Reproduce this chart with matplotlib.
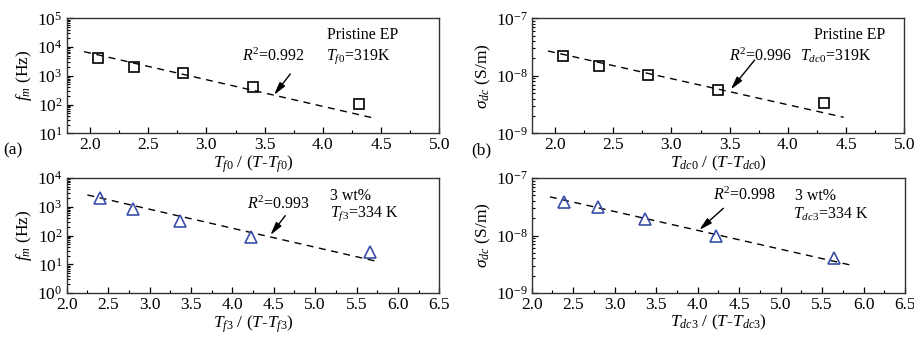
import matplotlib
matplotlib.use("Agg")
import matplotlib.pyplot as plt
from matplotlib.ticker import LogLocator, MultipleLocator, NullFormatter, FormatStrFormatter

plt.rcParams['font.family'] = ['Liberation Serif', 'DejaVu Serif']
plt.rcParams['mathtext.fontset'] = 'custom'
plt.rcParams['mathtext.rm'] = 'Liberation Serif'
plt.rcParams['mathtext.it'] = 'Liberation Serif:italic'
plt.rcParams['mathtext.bf'] = 'Liberation Serif:bold'
plt.rcParams['font.size'] = 11

# ---- data ----
# (a) pristine EP, f_m
a_x = [2.07, 2.38, 2.80, 3.40, 4.31]
a_y = [4070, 2080, 1290, 420, 102]
a_fit_x = [1.95, 4.45]
a_fit_y = [6900, 33]
a_arrow_tail = (3.72, 1150)
a_arrow_head = (3.58, 215)

# (b) pristine EP, sigma_dc
b_x = [2.07, 2.38, 2.80, 3.40, 4.31]
b_y = [2.2e-8, 1.5e-8, 1.02e-8, 5.7e-9, 3.3e-9]
b_fit_x = [1.94, 4.48]
b_fit_y = [2.7e-8, 1.9e-9]
b_arrow_tail = (3.715, 1.88e-8)
b_arrow_head = (3.51, 5.8e-9)

# (c) 3 wt%, f_m
c_x = [2.40, 2.80, 3.37, 4.23, 5.66]
c_y = [2000, 830, 330, 87, 26]
c_fit_x = [2.25, 5.74]
c_fit_y = [2570, 12.7]
c_arrow_tail = (4.64, 490)
c_arrow_head = (4.46, 104)

# (d) 3 wt%, sigma_dc
d_x = [2.39, 2.80, 3.37, 4.22, 5.65]
d_y = [3.9e-8, 3.1e-8, 1.9e-8, 9.9e-9, 4.0e-9]
d_fit_x = [2.22, 5.84]
d_fit_y = [4.7e-8, 3.07e-9]
d_arrow_tail = (4.31, 2.97e-8)
d_arrow_head = (4.02, 1.25e-8)

fig = plt.figure(figsize=(9.14, 3.4), dpi=100)

W = 372.6 / 914
H = 115 / 340
pos = {
    'a': [66.7 / 914, (340 - 133.3) / 340, W, H],
    'b': [531.7 / 914, (340 - 133.3) / 340, W, H],
    'c': [66.7 / 914, (340 - 293) / 340, W, H],
    'd': [531.7 / 914, (340 - 293) / 340, W + 0.7 / 914, H],
}

blue = '#3a4fa8'
TXT = 11.5
TICK = 12.5
LAB = 12.5


def style(ax, xlim, ylim, xmajor):
    ax.set_yscale('log')
    ax.set_xlim(*xlim)
    ax.set_ylim(*ylim)
    ax.xaxis.set_major_locator(MultipleLocator(xmajor))
    ax.xaxis.set_minor_locator(MultipleLocator(xmajor / 2))
    ax.yaxis.set_major_locator(LogLocator(base=10, numticks=20))
    ax.yaxis.set_minor_locator(LogLocator(base=10, subs=range(2, 10), numticks=20))
    ax.yaxis.set_minor_formatter(NullFormatter())
    ax.xaxis.set_major_formatter(FormatStrFormatter('%.1f'))
    ax.tick_params(which='both', direction='in', top=False, right=False, labelsize=TICK)
    ax.tick_params(which='major', length=4, width=0.9, pad=3)
    ax.tick_params(which='minor', length=2.5, width=0.8)
    for s in ax.spines.values():
        s.set_linewidth(1.0)
        s.set_color('#333333')


def arrow(ax, tail, head):
    ax.annotate('', xy=head, xytext=tail,
                arrowprops=dict(arrowstyle='-|>,head_length=0.7,head_width=0.18',
                                color='k', lw=1.0, shrinkA=0, shrinkB=0))


# (a)
ax = fig.add_axes(pos['a'])
style(ax, (1.8, 5.0), (10, 1e5), 0.5)
ax.plot(a_fit_x, a_fit_y, 'k--', lw=1.0, dashes=(5, 4))
ax.plot(a_x, a_y, 's', ms=7, mfc='none', mec='k', mew=1.2)
arrow(ax, a_arrow_tail, a_arrow_head)
ax.text(0.556, 0.666, r'$R^2$=0.992', transform=ax.transAxes, ha='center', va='center', fontsize=TXT)
ax.text(0.795, 0.855, 'Pristine EP', transform=ax.transAxes, ha='center', va='center', fontsize=TXT)
ax.text(0.695, 0.666, r'$T_{\mathit{f0}}$=319K', transform=ax.transAxes, ha='left', va='center', fontsize=TXT)
ax.set_ylabel(r'$f_m$ (Hz)', fontsize=LAB, labelpad=2)
ax.set_xlabel(r'$T_{\mathit{f0}}$ / ($T$-$T_{\mathit{f0}}$)', fontsize=LAB, labelpad=0)
fig.text(3 / 914, (340 - 150) / 340, '(a)', fontsize=LAB, ha='left', va='center')

# (b)
ax = fig.add_axes(pos['b'])
style(ax, (1.8, 5.0), (1e-9, 1e-7), 0.5)
ax.plot(b_fit_x, b_fit_y, 'k--', lw=1.0, dashes=(5, 4))
ax.plot(b_x, b_y, 's', ms=7, mfc='none', mec='k', mew=1.2)
arrow(ax, b_arrow_tail, b_arrow_head)
ax.text(0.70, 0.666, r'$R^2$=0.996', transform=ax.transAxes, ha='right', va='center', fontsize=TXT)
ax.text(0.854, 0.855, 'Pristine EP', transform=ax.transAxes, ha='center', va='center', fontsize=TXT)
ax.text(0.72, 0.666, r'$T_{\mathit{dc0}}$=319K', transform=ax.transAxes, ha='left', va='center', fontsize=TXT)
ax.set_ylabel(r'$\sigma_{dc}$ (S/m)', fontsize=LAB, labelpad=2)
ax.set_xlabel(r'$T_{\mathit{dc0}}$ / ($T$-$T_{\mathit{dc0}}$)', fontsize=LAB, labelpad=0)
fig.text(471 / 914, (340 - 150) / 340, '(b)', fontsize=LAB, ha='left', va='center')

# (c)
ax = fig.add_axes(pos['c'])
style(ax, (2.0, 6.5), (1, 1e4), 0.5)
ax.plot(c_fit_x, c_fit_y, 'k--', lw=1.0, dashes=(5, 4))
ax.plot(c_x, c_y, '^', ms=8, mfc='none', mec=blue, mew=1.2)
arrow(ax, c_arrow_tail, c_arrow_head)
ax.text(0.568, 0.774, r'$R^2$=0.993', transform=ax.transAxes, ha='center', va='center', fontsize=TXT)
ax.text(0.707, 0.846, '3 wt%', transform=ax.transAxes, ha='left', va='center', fontsize=TXT)
ax.text(0.707, 0.687, r'$T_{\mathit{f3}}$=334 K', transform=ax.transAxes, ha='left', va='center', fontsize=TXT)
ax.set_ylabel(r'$f_m$ (Hz)', fontsize=LAB, labelpad=2)
ax.set_xlabel(r'$T_{\mathit{f3}}$ / ($T$-$T_{\mathit{f3}}$)', fontsize=LAB, labelpad=0)

# (d)
ax = fig.add_axes(pos['d'])
style(ax, (2.0, 6.5), (1e-9, 1e-7), 0.5)
ax.plot(d_fit_x, d_fit_y, 'k--', lw=1.0, dashes=(5, 4))
ax.plot(d_x, d_y, '^', ms=8, mfc='none', mec=blue, mew=1.2)
arrow(ax, d_arrow_tail, d_arrow_head)
ax.text(0.571, 0.852, r'$R^2$=0.998', transform=ax.transAxes, ha='center', va='center', fontsize=TXT)
ax.text(0.705, 0.846, '3 wt%', transform=ax.transAxes, ha='left', va='center', fontsize=TXT)
ax.text(0.701, 0.687, r'$T_{\mathit{dc3}}$=334 K', transform=ax.transAxes, ha='left', va='center', fontsize=TXT)
ax.set_ylabel(r'$\sigma_{dc}$ (S/m)', fontsize=LAB, labelpad=2)
ax.set_xlabel(r'$T_{\mathit{dc3}}$ / ($T$-$T_{\mathit{dc3}}$)', fontsize=LAB, labelpad=0)

fig.savefig('out.png', dpi=100)
